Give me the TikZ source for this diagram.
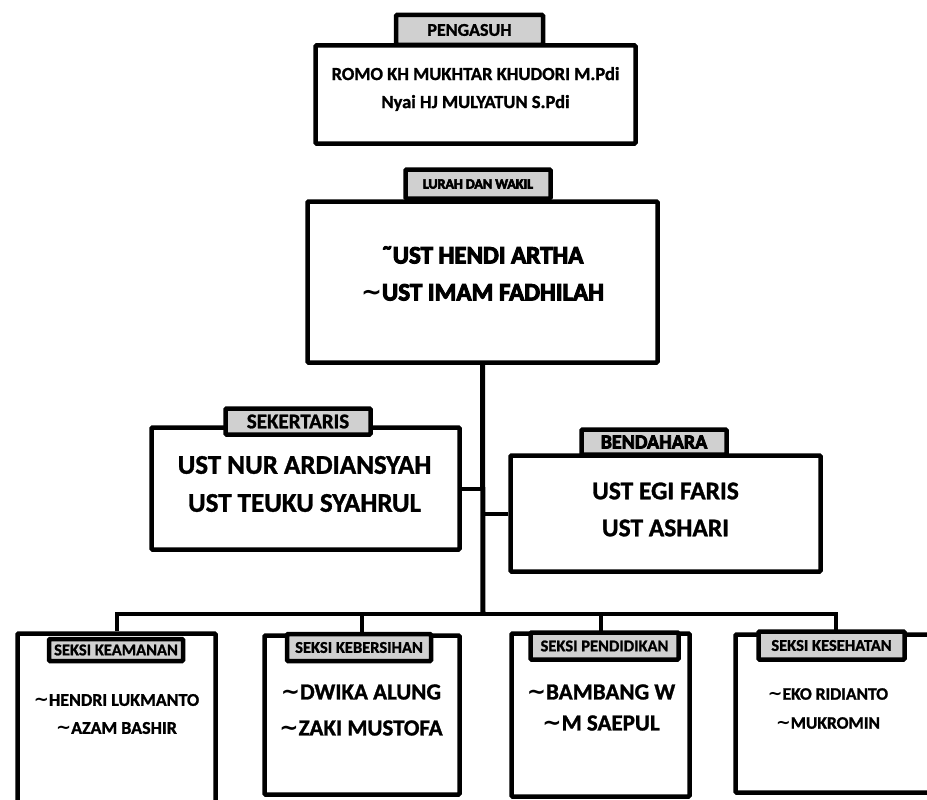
\documentclass[tikz,border=0pt]{standalone}
\usepackage{fontspec}
\setmainfont{Carlito}[BoldFeatures={FakeBold=1.2}]
\newfontfamily\heavyfont{Carlito}[BoldFeatures={FakeBold=4}]
\newfontfamily\tildefont{DejaVu Sans}
\newcommand{\tld}{{\tildefont\bfseries\symbol{"223C}}}
\usetikzlibrary{positioning}
\definecolor{tabgray}{RGB}{208,208,208}

\begin{document}
\begin{tikzpicture}[x=1pt, y=-1pt,
  frame/.style={draw, line width=4.5pt, fill=white, rounded corners=1pt, inner sep=0pt},
  tabbox/.style={draw, line width=4.5pt, fill=tabgray, rounded corners=1pt, inner sep=0pt, font=\bfseries\fontsize{16.5}{18}\selectfont},
  names/.style={align=center, inner sep=0pt},
  wire/.style={line width=4pt}]
\useasboundingbox (0,0) rectangle (927,800);
\clip (0,0) rectangle (927,800);

% pengasuh
\node[tabbox, minimum width=147pt, minimum height=30pt, font=\bfseries\fontsize{18}{20}\selectfont] (pengtab) at (469.5,30) {PENGASUH};
\node[frame, minimum width=320pt, minimum height=98pt] (peng) at (475.5,94.5) {};
\node[names, font=\bfseries\fontsize{18.5}{28}\selectfont] (pengtxt) at (475.5,89) {ROMO KH MUKHTAR KHUDORI M.Pdi\\Nyai HJ MULYATUN S.Pdi};

% lurah dan wakil
\node[tabbox, minimum width=145pt, minimum height=29pt, font=\heavyfont\bfseries\fontsize{14}{16}\selectfont] (lurahtab) at (478,184) {LURAH DAN WAKIL};
\node[frame, minimum width=350pt, minimum height=161pt] (lurah) at (482.5,282) {};
\node[names, font=\heavyfont\bfseries\fontsize{25}{37}\selectfont] (lurahtxt) at (482.5,273.5) {{\char"02DC}UST HENDI ARTHA\\\tld UST IMAM FADHILAH};

% sekertaris
\node[frame, minimum width=308pt, minimum height=122pt] (sek) at (305.5,488.5) {};
\node[tabbox, minimum width=145pt, minimum height=26pt, font=\bfseries\fontsize{21}{22}\selectfont] (sektab) at (298,421.5) {SEKERTARIS};
\node[names, font=\bfseries\fontsize{27}{38}\selectfont] (sektxt) at (304.5,484) {UST NUR ARDIANSYAH\\UST TEUKU SYAHRUL};

% bendahara
\node[frame, minimum width=310pt, minimum height=116pt] (bend) at (665.5,513.5) {};
\node[tabbox, minimum width=145pt, minimum height=25pt, font=\heavyfont\bfseries\fontsize{20}{21}\selectfont] (bendtab) at (654,442) {BENDAHARA};
\node[names, font=\bfseries\fontsize{25.5}{37}\selectfont] (bendtxt) at (665.5,509.5) {UST EGI FARIS\\UST ASHARI};

% seksi
\node[frame, minimum width=198pt, minimum height=180pt] (aman) at (116.5,723.5) {};
\node[tabbox, minimum width=134pt, minimum height=22pt] (amantab) at (116,650) {SEKSI KEAMANAN};
\node[names, font=\bfseries\fontsize{18}{28}\selectfont] (amantxt) at (116.5,714) {\tld HENDRI LUKMANTO\\\tld AZAM BASHIR};

\node[frame, minimum width=195pt, minimum height=159pt] (bersih) at (362,715) {};
\node[tabbox, minimum width=144pt, minimum height=27pt] (bersihtab) at (359,647.5) {SEKSI KEBERSIHAN};
\node[names, font=\bfseries\fontsize{23}{36}\selectfont] (bersihtxt) at (361,710) {\tld DWIKA ALUNG\\\tld ZAKI MUSTOFA};

\node[frame, minimum width=178pt, minimum height=163pt] (didik) at (600.5,715) {};
\node[tabbox, minimum width=148pt, minimum height=27pt] (didiktab) at (604.5,646) {SEKSI PENDIDIKAN};
\node[names, font=\bfseries\fontsize{23}{31}\selectfont] (didiktxt) at (601,707.5) {\tld BAMBANG W\\\tld M SAEPUL};

\node[frame, minimum width=200pt, minimum height=158pt] (sehat) at (835.5,713.5) {};
\node[tabbox, minimum width=146pt, minimum height=28pt] (sehattab) at (831.5,645.5) {SEKSI KESEHATAN};
\node[names, font=\bfseries\fontsize{17.5}{29}\selectfont] (sehattxt) at (828,708.5) {\tld EKO RIDIANTO\\\tld MUKROMIN};

% garis
\coordinate (hub) at (483,614);
\draw[line width=5pt] (lurah.south) -- (hub);
\draw[wire] (sek.east) -- (sek.east -| hub);
\draw[wire] (bend.west) -- (bend.west -| hub);
\draw[wire] (hub) -| (aman.north);
\draw[wire] (hub) -| (bersih.north);
\draw[wire] (hub) -| (didik.north);
\draw[wire] (hub) -| (sehat.north);
\end{tikzpicture}
\end{document}
